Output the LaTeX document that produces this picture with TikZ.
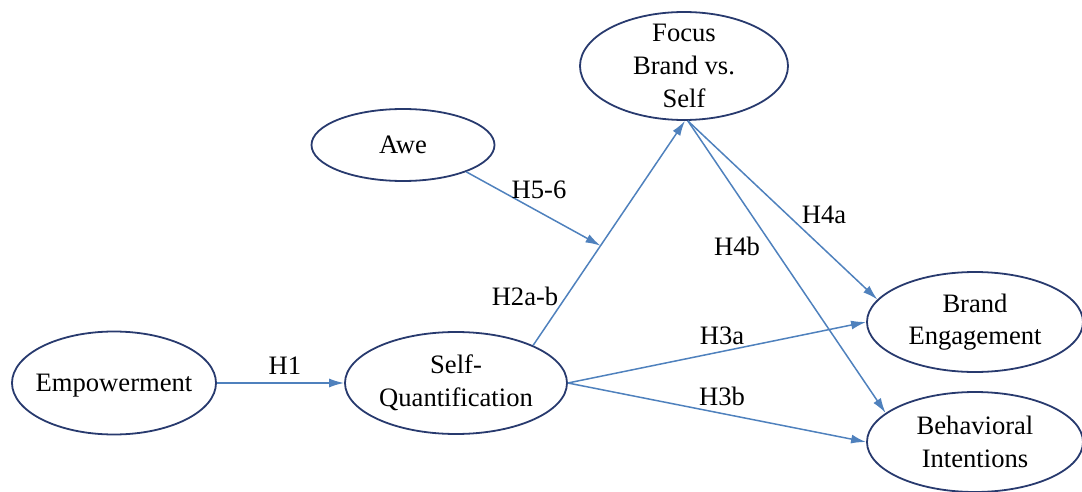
\documentclass[tikz,border=0pt]{standalone}
\usepackage{fontspec}
\setmainfont{Liberation Serif}
\usetikzlibrary{shapes.geometric,arrows.meta,calc}
\definecolor{edgeblue}{RGB}{40,58,110}
\definecolor{arrowblue}{RGB}{79,129,189}
\begin{document}
\begin{tikzpicture}[x=0.5pt,y=-0.5pt,
  var/.style={ellipse, draw=edgeblue, line width=0.9pt, inner sep=0pt},
  vtext/.style={align=center, inner sep=0pt, font=\fontsize{13.3}{16.3}\selectfont},
  link/.style={draw=arrowblue, line width=0.75pt, -{Latex[length=7.5pt,width=4.5pt]}},
  lab/.style={font=\fontsize{13.3}{16.3}\selectfont, inner sep=0pt}]
\useasboundingbox (0,0) rectangle (1082,492);
\node[var, minimum width=102pt, minimum height=51.5pt] (emp) at (114,383) {};
\node[vtext] (empt) at ($(emp)+(0,3)$) {Empowerment};
\node[var, minimum width=111pt, minimum height=51pt] (sq) at (456,383) {};
\node[vtext] (sqt) at (sq) {Self-\\Quantification};
\node[var, minimum width=91.5pt, minimum height=36pt] (awe) at (403,145) {};
\node[vtext] (awet) at (awe) {Awe};
\node[var, minimum width=104pt, minimum height=54pt] (focus) at (684,66) {};
\node[vtext] (focust) at (focus) {Focus\\Brand vs.\\Self};
\node[var, minimum width=108pt, minimum height=50pt] (be) at (975,322) {};
\node[vtext] (bet) at (be) {Brand\\Engagement};
\node[var, minimum width=108pt, minimum height=50pt] (bi) at (975,442) {};
\node[vtext] (bit) at (bi) {Behavioral\\Intentions};
\draw[link] (emp.east) -- (sq.west);
\draw[link] (sq.26) -- (focus.-89);
\coordinate (mod) at ($(sq.26)!0.444!(focus.-89)$);
\draw[link] (awe.-23) -- (mod);
\draw[link] (focus.-86) -- (be.167);
\draw[link] (focus.-86) -- (bi.162);
\draw[link] (sq.east) -- (be.west);
\draw[link] (sq.east) -- (bi.west);
\node[lab] (h1) at (285,366) {H1};
\node[lab] (h56) at (539,190) {H5-6};
\node[lab] (h2) at (525,296) {H2a-b};
\node[lab] (h4a) at (824,215) {H4a};
\node[lab] (h4b) at (737,246) {H4b};
\node[lab] (h3a) at (722,336) {H3a};
\node[lab] (h3b) at (722,396) {H3b};
\end{tikzpicture}
\end{document}
